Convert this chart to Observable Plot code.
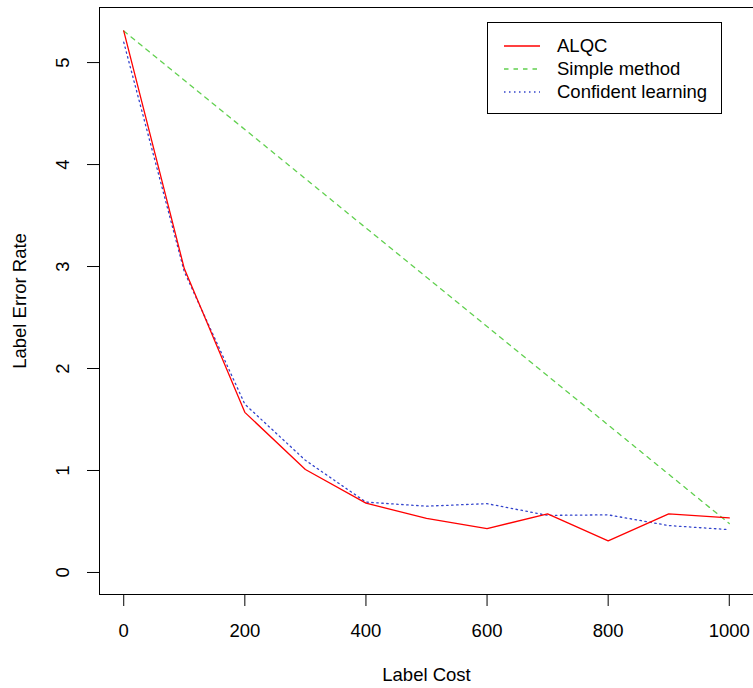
<!DOCTYPE html>
<html>
<head>
<meta charset="utf-8">
<script src="https://cdn.jsdelivr.net/npm/d3@7"></script>
<script src="https://cdn.jsdelivr.net/npm/@observablehq/plot@0.6"></script>
<style>
  html, body { margin: 0; padding: 0; background: #fff; overflow: hidden; }
  #wrap { position: relative; width: 753px; height: 688px; font-family: "Liberation Sans", Arial, sans-serif; }
  #legend { position: absolute; left: 487px; top: 22px; width: 235px; height: 92px; border: 1px solid #000; background: #fff; box-sizing: border-box; }
  #legend .row { position: absolute; left: 0; height: 22px; width: 100%; }
  #legend svg { position: absolute; left: 16px; top: 0; }
  #legend span { position: absolute; left: 69px; top: 0; line-height: 22px; font-size: 18.5px; white-space: nowrap; }
</style>
</head>
<body>
<div id="wrap"><div id="legend"></div></div>
<script>
// ---- data ----
const cost = [0, 100, 200, 300, 400, 500, 600, 700, 800, 900, 1000];
const alqc = [5.31, 2.98, 1.57, 1.01, 0.68, 0.53, 0.43, 0.575, 0.31, 0.575, 0.535];
const confident = [5.2, 2.95, 1.65, 1.1, 0.69, 0.65, 0.675, 0.56, 0.565, 0.46, 0.42];
const simpleCost = [0, 1000];
const simple = [5.31, 0.48];
const xTicks = [0, 200, 400, 600, 800, 1000];
const yTicks = [0, 1, 2, 3, 4, 5];
const seriesNames = ["ALQC", "Simple method", "Confident learning"];
const xLabel = "Label Cost";
const yLabel = "Label Error Rate";

// ---- styles ----
const styles = [
  {color: "#FF0000", dash: null},
  {color: "#61D04F", dash: "4.5,5"},
  {color: "#3344CC", dash: "1.5,3.5"}
];
const fontSize = 18.5;

const alqcData = cost.map((c, i) => ({x: c, y: alqc[i]}));
const confData = cost.map((c, i) => ({x: c, y: confident[i]}));
const simpleData = simpleCost.map((c, i) => ({x: c, y: simple[i]}));

const chart = Plot.plot({
  width: 753,
  height: 688,
  marginLeft: 99,
  marginRight: 0,
  marginTop: 7,
  marginBottom: 94,
  style: {fontFamily: '"Liberation Sans", Arial, sans-serif', fontSize: fontSize + "px", background: "white", overflow: "visible"},
  x: {domain: [-40, 1040]},
  y: {domain: [-0.216, 5.54]},
  marks: [
    Plot.frame({stroke: "black", strokeWidth: 1}),
    Plot.axisX(xTicks, {tickSize: 12, tickPadding: 17, tickFormat: d => String(d), label: null, fontSize: fontSize, stroke: "black"}),
    Plot.axisY(yTicks, {tickSize: 12, tickFormat: () => "", label: null, stroke: "black"}),
    Plot.text(yTicks, {y: d => d, text: d => String(d), frameAnchor: "left", textAnchor: "middle", lineAnchor: "middle", dx: -36, rotate: -90, fontSize: fontSize, fill: "black"}),
    Plot.text([xLabel], {frameAnchor: "bottom", textAnchor: "middle", lineAnchor: "middle", dy: 81, text: d => d, fontSize: fontSize, fill: "black"}),
    Plot.text([yLabel], {frameAnchor: "left", textAnchor: "middle", lineAnchor: "middle", dx: -79, rotate: -90, text: d => d, fontSize: fontSize, fill: "black"}),
    Plot.line(simpleData, {x: "x", y: "y", stroke: styles[1].color, strokeWidth: 1.3, strokeDasharray: styles[1].dash}),
    Plot.line(confData, {x: "x", y: "y", stroke: styles[2].color, strokeWidth: 1.3, strokeDasharray: styles[2].dash}),
    Plot.line(alqcData, {x: "x", y: "y", stroke: styles[0].color, strokeWidth: 1.3})
  ]
});
document.getElementById("wrap").prepend(chart);

// ---- legend ----
const legend = d3.select("#legend");
seriesNames.forEach((name, i) => {
  const row = legend.append("div").attr("class", "row").style("top", (12 + i * 23) + "px");
  const svg = row.append("svg").attr("width", 40).attr("height", 22);
  svg.append("line").attr("x1", 0).attr("x2", 36).attr("y1", 11).attr("y2", 11)
    .attr("stroke", styles[i].color).attr("stroke-width", 1.3)
    .attr("stroke-dasharray", styles[i].dash);
  row.append("span").text(name);
});
</script>
</body>
</html>
